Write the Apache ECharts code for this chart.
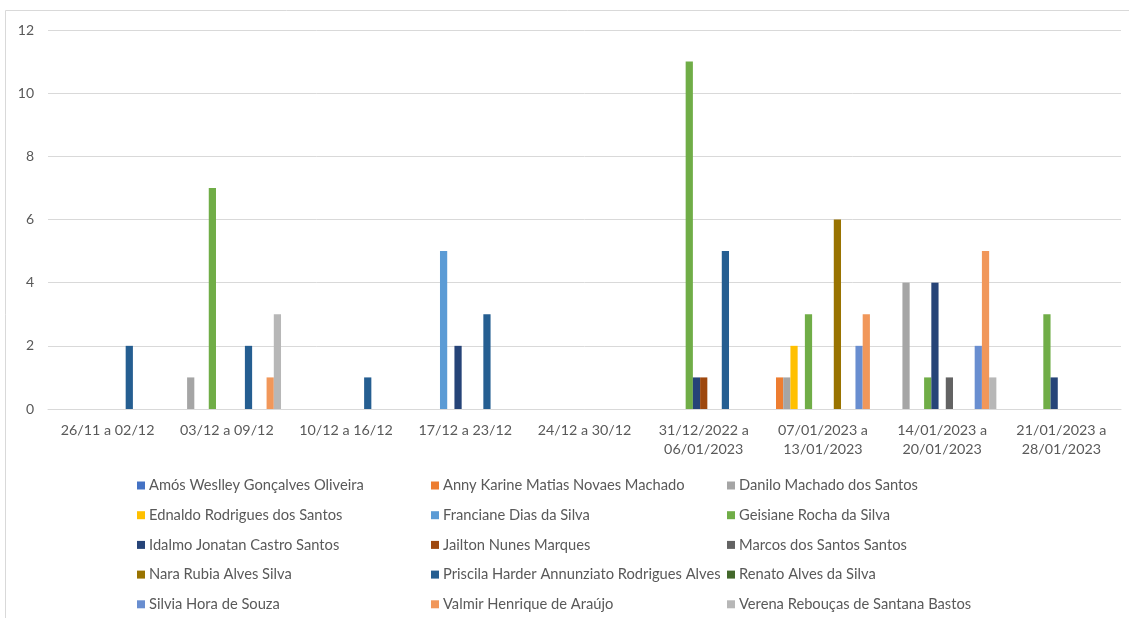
<!DOCTYPE html>
<html>
<head>
<meta charset="utf-8">
<script src="https://cdn.jsdelivr.net/npm/echarts@6/dist/echarts.min.js"></script>
<style>
html,body{margin:0;padding:0;background:#fff;}
#chart{width:1129px;height:618px;}
</style>
</head>
<body>
<div id="chart"></div>
<script>
const categories = ["26/11 a 02/12","03/12 a 09/12","10/12 a 16/12","17/12 a 23/12","24/12 a 30/12","31/12/2022 a\n06/01/2023","07/01/2023 a\n13/01/2023","14/01/2023 a\n20/01/2023","21/01/2023 a\n28/01/2023"];
const yTicks = [0, 2, 4, 6, 8, 10, 12];

const names = [
  "Amós Weslley Gonçalves Oliveira",
  "Anny Karine Matias Novaes Machado",
  "Danilo Machado dos Santos",
  "Ednaldo Rodrigues dos Santos",
  "Franciane Dias da Silva",
  "Geisiane Rocha da Silva",
  "Idalmo Jonatan Castro Santos",
  "Jailton Nunes Marques",
  "Marcos dos Santos Santos",
  "Nara Rubia Alves Silva",
  "Priscila Harder Annunziato Rodrigues Alves",
  "Renato Alves da Silva",
  "Silvia Hora de Souza",
  "Valmir Henrique de Araújo",
  "Verena Rebouças de Santana Bastos"
];
const colors = ["#4472C4","#ED7D31","#A5A5A5","#FFC000","#5B9BD5","#70AD47","#264478","#9E480E","#636363","#997300","#255E91","#43682B","#698ED0","#F1975A","#B7B7B7"];

const amos     = [0,0,0,0,0,0,0,0,0];
const anny     = [0,0,0,0,0,0,1,0,0];
const danilo   = [0,1,0,0,0,0,1,4,0];
const ednaldo  = [0,0,0,0,0,0,2,0,0];
const franciane= [0,0,0,5,0,0,0,0,0];
const geisiane = [0,7,0,0,0,11,3,1,3];
const idalmo   = [0,0,0,2,0,1,0,4,1];
const jailton  = [0,0,0,0,0,1,0,0,0];
const marcos   = [0,0,0,0,0,0,0,1,0];
const nara     = [0,0,0,0,0,0,6,0,0];
const priscila = [2,2,1,3,0,5,0,0,0];
const renato   = [0,0,0,0,0,0,0,0,0];
const silvia   = [0,0,0,0,0,0,2,2,0];
const valmir   = [0,1,0,0,0,0,3,5,0];
const verena   = [0,3,0,0,0,0,0,1,0];

const values = [amos,anny,danilo,ednaldo,franciane,geisiane,idalmo,jailton,marcos,nara,priscila,renato,silvia,valmir,verena];

const FONT = 'Lato';
const TXT = '#595959';

const series = names.map((n,i)=>({
  name:n,
  type:'bar',
  barGap:'0%',
  barCategoryGap:'9.09%',
  itemStyle:{color:colors[i]},
  data: values[i].map(v => v === 0 ? null : v)
}));

function legendCol(idxs, left){
  return {
    orient:'vertical',
    left:left,
    top:478,
    itemWidth:8,
    itemHeight:8,
    itemGap:14.7,
    icon:'rect',
    data: idxs.map(i=>names[i]),
    textStyle:{fontFamily:FONT,fontSize:14.7,color:TXT,lineHeight:14,padding:[0,0,0,-1]},
    padding:0,
    selectedMode:false
  };
}

const chart = echarts.init(document.getElementById('chart'));
chart.setOption({
  animation:false,
  backgroundColor:'#fff',
  color:colors,
  graphic:[{type:'rect',shape:{x:5.5,y:10.5,width:1300,height:800},style:{fill:'none',stroke:'#D9D9D9',lineWidth:1},silent:true}],
  grid:{left:48,right:8,top:30,bottom:209,containLabel:false},
  legend:[legendCol([0,3,6,9,12],137),legendCol([1,4,7,10,13],431),legendCol([2,5,8,11,14],727)],
  xAxis:{
    type:'category',
    data:categories,
    axisLine:{show:true,lineStyle:{color:'#D9D9D9',width:1}},
    axisTick:{show:false},
    axisLabel:{fontFamily:FONT,fontSize:14.3,color:TXT,lineHeight:19,margin:12,interval:0}
  },
  yAxis:{
    type:'value',
    min:yTicks[0],
    max:yTicks[yTicks.length-1],
    interval:2,
    axisLine:{show:false},
    axisTick:{show:false},
    splitLine:{lineStyle:{color:'#D9D9D9',width:1}},
    axisLabel:{fontFamily:FONT,fontSize:14,color:TXT,margin:14}
  },
  series:series
});
</script>
</body>
</html>
